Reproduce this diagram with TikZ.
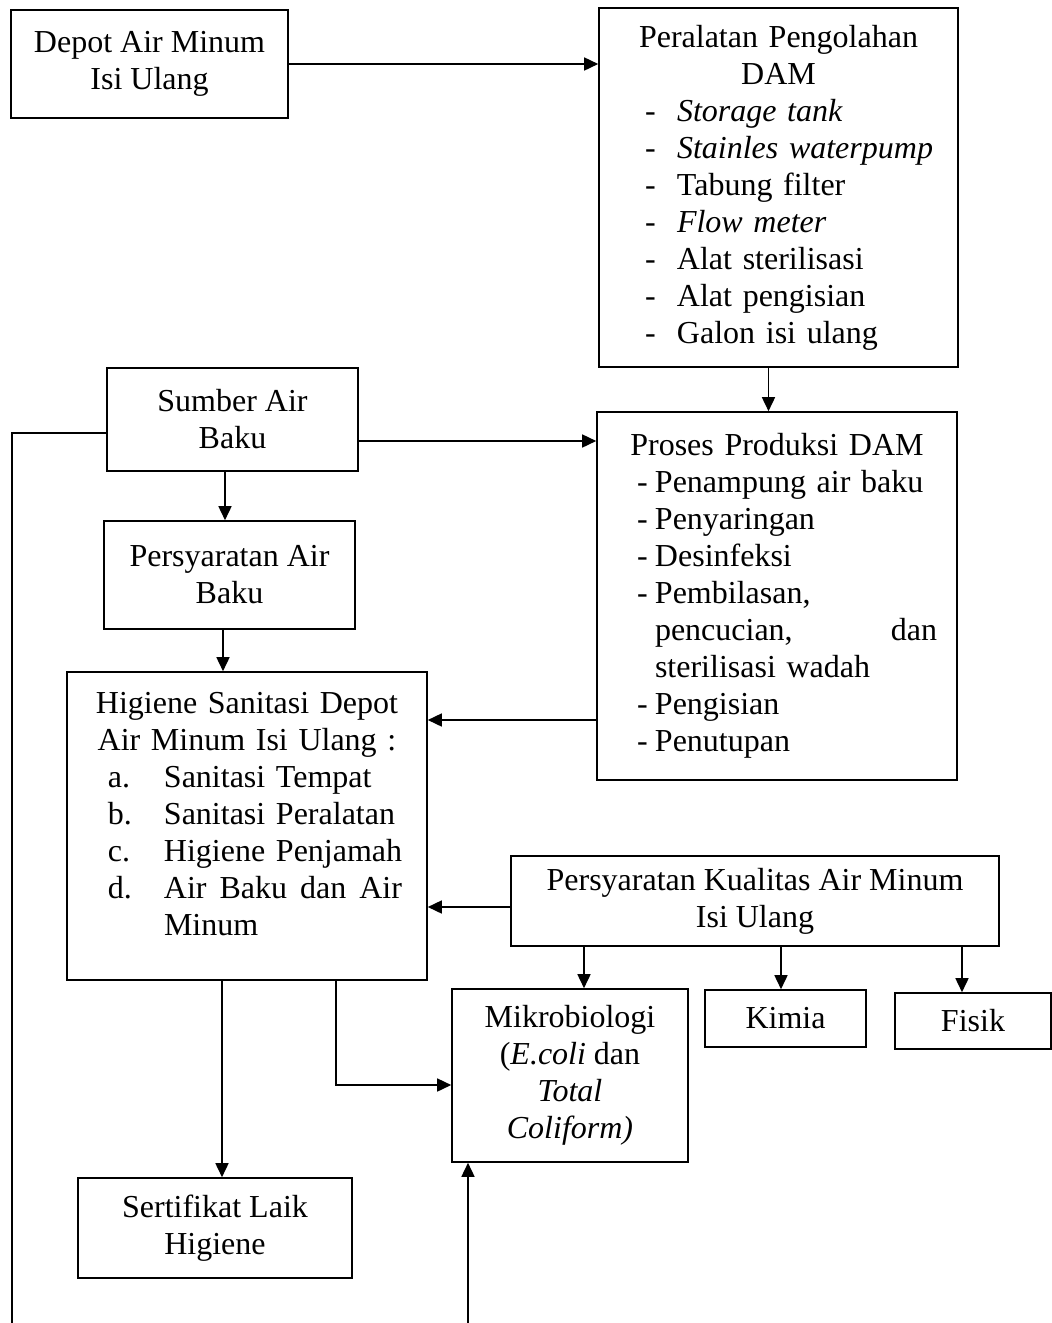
\documentclass[tikz,border=0pt]{standalone}
\usepackage{fontspec}
\setmainfont{Liberation Serif}
\usetikzlibrary{arrows.meta,positioning}
% one row of a list inside a box: indent, marker, gap, text
\newcommand{\listrow}[4]{\makebox[\linewidth][l]{\hspace*{#1}\rlap{#2}\hspace*{#3}#4}}
% stretchable word space for justified rows
\newcommand{\wsp}{\hspace{4pt plus 1fil}}

\begin{document}
\begin{tikzpicture}[x=0.5pt,y=-0.5pt,
  flowbox/.style={draw,line width=0.8pt,align=center,inner sep=0pt,
    font=\fontsize{16pt}{18.5pt}\selectfont},
  flowarr/.style={line width=0.8pt,-{Triangle[length=7pt,width=6.5pt]}},
  flowline/.style={line width=0.8pt}
]
  \useasboundingbox (0,0) rectangle (1052,1323);

  % Top row
  \node[flowbox,minimum width=138.5pt,minimum height=54pt] (depot) at (149.5,64)
    {Depot Air Minum\\Isi Ulang};
  \node[flowbox,minimum width=179.5pt,minimum height=179.5pt,text width=179.5pt] (alat) at (778.5,187.5) {
    Peralatan Pengolahan\\DAM\\
    \listrow{23pt}{-}{16pt}{\textit{Storage tank}}\\
    \listrow{23pt}{-}{16pt}{\textit{Stainles waterpump}}\\
    \listrow{23pt}{-}{16pt}{Tabung filter}\\
    \listrow{23pt}{-}{16pt}{\textit{Flow meter}}\\
    \listrow{23pt}{-}{16pt}{Alat sterilisasi}\\
    \listrow{23pt}{-}{16pt}{Alat pengisian}\\
    \listrow{23pt}{-}{16pt}{Galon isi ulang}};

  % Middle: source water and production
  \node[flowbox,minimum width=125.5pt,minimum height=51.5pt] (sumber) at (232.5,419.5)
    {Sumber Air\\Baku};
  \node[flowbox,minimum width=180pt,minimum height=184pt,text width=180pt] (proses) at (777,596) {
    Proses Produksi DAM\\
    \listrow{20pt}{-}{9pt}{Penampung air baku}\\
    \listrow{20pt}{-}{9pt}{Penyaringan}\\
    \listrow{20pt}{-}{9pt}{Desinfeksi}\\
    \listrow{20pt}{-}{9pt}{Pembilasan,}\\
    \listrow{20pt}{}{9pt}{\makebox[141pt][l]{pencucian,\hfill dan}}\\
    \listrow{20pt}{}{9pt}{sterilisasi wadah}\\
    \listrow{20pt}{-}{9pt}{Pengisian}\\
    \listrow{20pt}{-}{9pt}{Penutupan}};
  \node[flowbox,minimum width=125.5pt,minimum height=54pt] (syarat) at (229.5,575)
    {Persyaratan Air\\Baku};
  \node[flowbox,minimum width=180pt,minimum height=154pt,text width=180pt] (higiene) at (247,826) {
    Higiene Sanitasi Depot\\Air Minum Isi Ulang :\\
    \listrow{20.5pt}{a.}{28pt}{Sanitasi Tempat}\\
    \listrow{20.5pt}{b.}{28pt}{Sanitasi Peralatan}\\
    \listrow{20.5pt}{c.}{28pt}{Higiene Penjamah}\\
    \listrow{20.5pt}{d.}{28pt}{\makebox[121.5pt][l]{Air\wsp Baku\wsp dan\wsp Air}}\\
    \listrow{20.5pt}{}{28pt}{Minum\rule[-12pt]{0pt}{12pt}}};

  % Quality requirements
  \node[flowbox,minimum width=244pt,minimum height=45pt] (kualitas) at (755,901)
    {Persyaratan Kualitas Air Minum\\Isi Ulang};
  \node[flowbox,minimum width=118pt,minimum height=86.5pt] (mikro) at (570,1075.5)
    {Mikrobiologi\\(\textit{E.coli} dan\\\textit{Total}\\\textit{Coliform)}};
  \node[flowbox,minimum width=80.5pt,minimum height=28.5pt] (kimia) at (785.5,1018.5) {Kimia};
  \node[flowbox,minimum width=78pt,minimum height=28pt] (fisik) at (973,1021) {Fisik};
  \node[flowbox,minimum width=137pt,minimum height=50pt] (sertif) at (215,1228)
    {Sertifikat Laik\\Higiene};

  % Open ends at the bottom edge
  \coordinate (leftend) at (12,1323);
  \coordinate (mikroin) at (468,1323);

  % Connectors
  \draw[flowarr] (depot.east) -- (depot.east -| alat.west);
  \draw[flowarr] ([xshift=-5pt]alat.south) -- ([xshift=-5pt]alat.south |- proses.north);
  \draw[flowarr] ([yshift=-10.75pt]sumber.east) -- ([yshift=-10.75pt]sumber.east -| proses.west);
  \draw[flowline] ([yshift=-6.75pt]sumber.west) -| (leftend);
  \draw[flowarr] ([xshift=-3.75pt]sumber.south) -- ([xshift=-3.75pt]sumber.south |- syarat.north);
  \draw[flowarr] ([xshift=-3.25pt]syarat.south) -- ([xshift=-3.25pt]syarat.south |- higiene.north);
  \draw[flowarr] ([yshift=-62pt]proses.west) -- ([yshift=-62pt]proses.west -| higiene.east);
  \draw[flowarr] ([yshift=-3pt]kualitas.west) -- ([yshift=-3pt]kualitas.west -| higiene.east);
  \draw[flowarr] ([xshift=7pt]mikro.north |- kualitas.south) -- ([xshift=7pt]mikro.north);
  \draw[flowarr] ([xshift=-2.25pt]kimia.north |- kualitas.south) -- ([xshift=-2.25pt]kimia.north);
  \draw[flowarr] ([xshift=-5.5pt]fisik.north |- kualitas.south) -- ([xshift=-5.5pt]fisik.north);
  \draw[flowarr] ([xshift=44.5pt]higiene.south) |- ([yshift=-4.75pt]mikro.west);
  \draw[flowarr] ([xshift=-12.5pt]higiene.south) -- ([xshift=-12.5pt]higiene.south |- sertif.north);
  \draw[flowarr] (mikroin) -- (mikroin |- mikro.south);
\end{tikzpicture}
\end{document}
